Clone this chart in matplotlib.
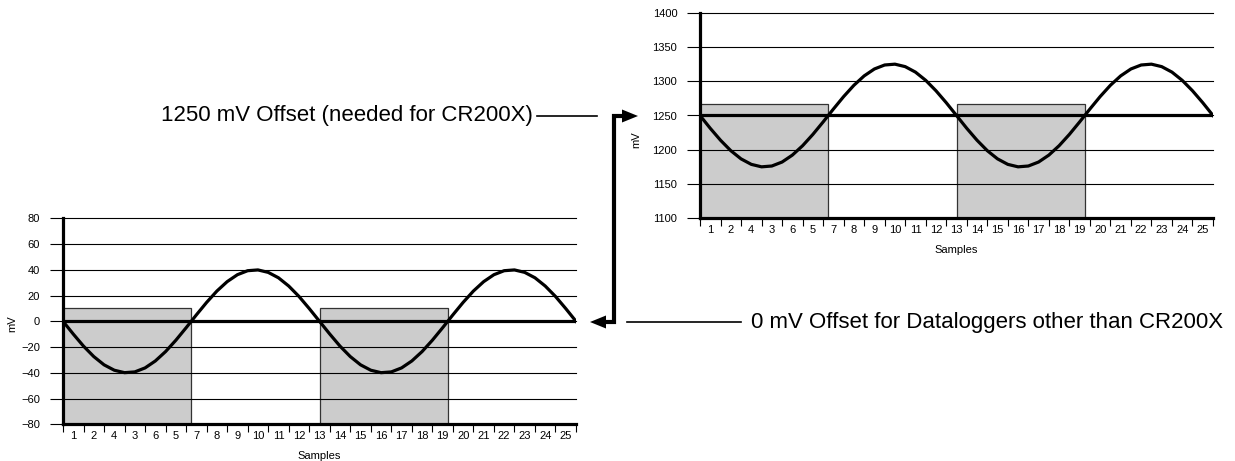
import matplotlib
matplotlib.use("Agg")
import matplotlib.pyplot as plt
from matplotlib.patches import Polygon
from matplotlib.lines import Line2D
import numpy as np

plt.rcParams['font.family'] = ['Liberation Sans', 'DejaVu Sans']

# x positions along the sample axis (half-sample steps)
t_samples = np.arange(0, 25.5, 0.5)

# signal without offset (left panel)
signal_0mv = [0, -9.9, -19.3, -27.4, -33.8, -38.0, -39.9, -39.3, -36.2, -30.8,
              -23.5, -14.7, -5.0, 5.0, 14.7, 23.5, 30.8, 36.2, 39.3, 39.9,
              38.0, 33.8, 27.4, 19.3, 9.9, 0,
              -9.9, -19.3, -27.4, -33.8, -38.0, -39.9, -39.3, -36.2, -30.8,
              -23.5, -14.7, -5.0, 5.0, 14.7, 23.5, 30.8, 36.2, 39.3, 39.9,
              38.0, 33.8, 27.4, 19.3, 9.9, 0]

# signal with 1250 mV offset (right panel)
signal_1250mv = [1250, 1231.3, 1213.9, 1198.7, 1186.7, 1178.7, 1175.1, 1176.3,
                 1182.1, 1192.2, 1205.9, 1222.4, 1240.6, 1259.4, 1277.6, 1294.1,
                 1307.8, 1317.9, 1323.7, 1324.9, 1321.3, 1313.3, 1301.3, 1286.1,
                 1268.7, 1250,
                 1231.3, 1213.9, 1198.7, 1186.7, 1178.7, 1175.1, 1176.3,
                 1182.1, 1192.2, 1205.9, 1222.4, 1240.6, 1259.4, 1277.6, 1294.1,
                 1307.8, 1317.9, 1323.7, 1324.9, 1321.3, 1313.3, 1301.3, 1286.1,
                 1268.7, 1250]

sample_labels = ["1", "2", "4", "3", "6", "5", "7", "8", "9", "10", "11", "12",
                 "13", "14", "15", "16", "17", "18", "19", "20", "21", "22",
                 "23", "24", "25"]

# gray measurement blocks
block_start = [0, 12.5]
block_width = 6.25

# the two panels: offset, block top, y range, y ticks
signals = [signal_0mv, signal_1250mv]
offsets = [0, 1250]
block_tops = [10, 1267]
y_ranges = [(-80, 80), (1100, 1400)]
y_ticks = [list(range(-80, 81, 20)), list(range(1100, 1401, 50))]

W, H = 1235, 461
fig = plt.figure(figsize=(W / 100, H / 100), dpi=100)


def fx(px):
    return px / W


def fy(py):
    return 1 - py / H


# axes rectangles in pixels: left, top, right, bottom
rects = [(63, 218.3, 576, 424.3), (700, 12.7, 1213, 218.3)]
ylabel_xy = [(-0.0897, 0.49), (-0.115, 0.38)]

for i in range(2):
    l, tp, r, b = rects[i]
    ax = fig.add_axes([fx(l), fy(b), (r - l) / W, (b - tp) / H])
    lo, hi = y_ranges[i]
    ax.set_xlim(0, 25)
    ax.set_ylim(lo, hi)

    ax.bar(block_start, block_tops[i] - lo, bottom=lo, width=block_width,
           align='edge', color='#cccccc', edgecolor='#333333', lw=0.9, zorder=1)

    ax.set_yticks(y_ticks[i])
    ax.grid(axis='y', color='black', lw=0.8)
    ax.set_axisbelow(False)
    for gl in ax.get_ygridlines():
        gl.set_clip_on(False)

    ax.axhline(offsets[i], color='black', lw=2.3, zorder=3)
    ax.plot(t_samples, signals[i], color='black',
            lw=2.3, zorder=4, solid_joinstyle='round')

    for s in ['top', 'right']:
        ax.spines[s].set_visible(False)
    for s in ['left', 'bottom']:
        ax.spines[s].set_linewidth(2.3)
        ax.spines[s].set_zorder(5)

    ax.tick_params(axis='y', length=9.4, width=0.8, pad=7, labelsize=8)
    ax.set_xticks(np.arange(0.5, 25, 1))
    ax.set_xticklabels(sample_labels)
    ax.set_xticks(np.arange(0, 26, 1), minor=True)
    ax.tick_params(axis='x', which='major', length=0, pad=4.5, labelsize=8)
    ax.tick_params(axis='x', which='minor', length=6, width=0.8)

    ax.set_xlabel("Samples", fontsize=8)
    ax.xaxis.set_label_coords(0.5, -0.13)
    ax.set_ylabel("mV", fontsize=8)
    ax.yaxis.set_label_coords(*ylabel_xy[i])

# annotation texts and leader lines
fig.text(fx(533), fy(116), "1250 mV Offset (needed for CR200X)", ha='right',
         va='center', fontsize=16)
fig.lines.append(Line2D([fx(537), fx(597)], [fy(116), fy(116)],
                        transform=fig.transFigure, color='black', lw=1.2))
fig.text(fx(751), fy(322), "0 mV Offset for Dataloggers other than CR200X",
         ha='left', va='center', fontsize=16)
fig.lines.append(Line2D([fx(627), fx(741)], [fy(322), fy(322)],
                        transform=fig.transFigure, color='black', lw=1.2))

# bracket arrow between the two offsets
fig.lines.append(Line2D([fx(624), fx(614), fx(614), fx(604)],
                        [fy(116), fy(116), fy(322), fy(322)],
                        transform=fig.transFigure, color='black', lw=3,
                        solid_joinstyle='miter'))
heads = [[(638, 116), (622, 109.5), (622, 122.5)],
         [(590, 322), (606, 315.5), (606, 328.5)]]
for pts in heads:
    fig.patches.append(Polygon([(fx(px), fy(py)) for px, py in pts],
                               closed=True, transform=fig.transFigure,
                               facecolor='black', edgecolor='none'))

fig.savefig("out.png", dpi=100)
